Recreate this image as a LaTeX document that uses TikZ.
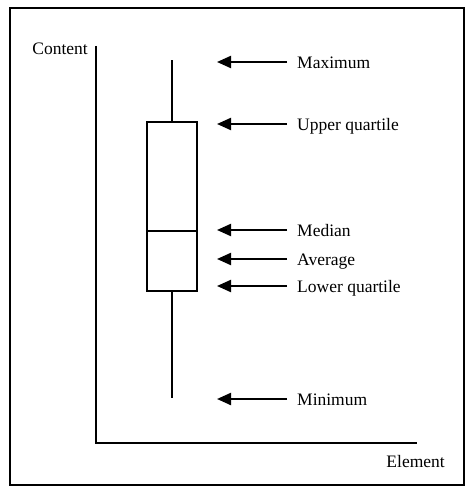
\documentclass[tikz,border=0pt]{standalone}
\usepackage{fontspec}
\setmainfont{Liberation Serif}
\usetikzlibrary{arrows.meta,positioning}

\begin{document}
\begin{tikzpicture}[x=1pt,y=-1pt,
		axis/.style={line width=2.2pt},
		pointer/.style={line width=2.2pt,-{Triangle[length=14pt,width=12pt]}},
		lab/.style={anchor=west,inner sep=0pt,text height=13pt,text depth=0pt,font=\fontsize{17.5}{20}\selectfont}]
		\useasboundingbox (0,0) rectangle (474,495);
		\draw[line width=2.4pt] (10,8) rectangle (464,485);

		\coordinate (O) at (96,443);
		\coordinate (Ytop) at (96,46);
		\coordinate (Xend) at (417,443);
		\draw[axis] (Ytop) -- (O) -- (Xend);

		\node[lab, anchor=east] (content) at (88,48) {Content};
		\node[lab, anchor=east] (element) at (445,461) {Element};

		\node[draw, line width=2.2pt, minimum width=50pt, minimum height=169pt, inner sep=0pt] (box) at (172,206.5) {};
		\coordinate (top) at (172,60);
		\coordinate (bottom) at (172,398);
		\draw[axis] (box.north) -- (top);
		\draw[axis] (box.south) -- (bottom);
		\draw[axis] (box.west |- 0,231) -- (box.east |- 0,231);

		\foreach \y/\name/\txt in {62/max/Maximum, 124/uq/Upper quartile, 230/med/Median, 259/avg/Average, 286/lq/Lower quartile, 399/min/Minimum} {
			\node[lab] (\name) at (297,\y) {\txt};
			\coordinate (\name tip) at (217,\y);
			\draw[pointer] ([xshift=-10pt]\name.west) -- (\name tip);
		}
	\end{tikzpicture}
\end{document}
